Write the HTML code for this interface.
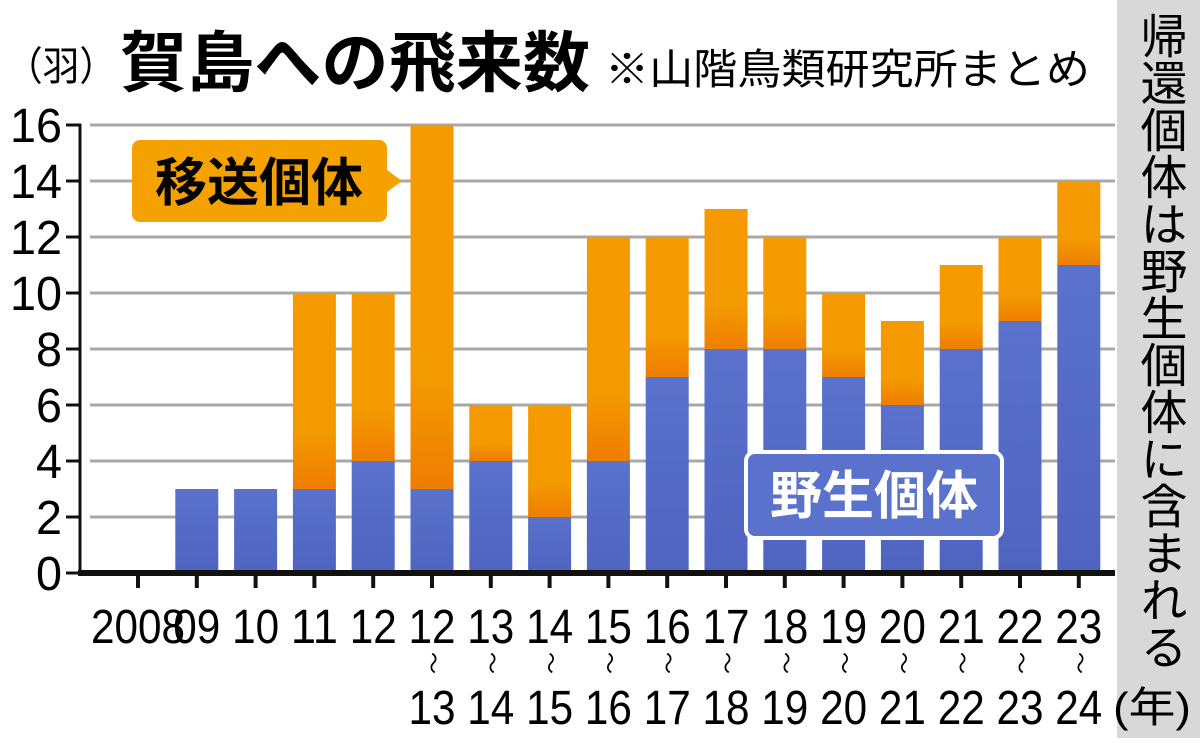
<!DOCTYPE html>
<html><head><meta charset="utf-8">
<style>
body{margin:0;background:#fff;}
svg text{font-family:"Liberation Sans","Noto Sans CJK JP",sans-serif;}
</style></head>
<body>
<svg width="1200" height="738" viewBox="0 0 1200 738" xmlns="http://www.w3.org/2000/svg">
<defs>
<linearGradient id="og" x1="0" y1="0" x2="0" y2="1"><stop offset="0" stop-color="#f59a00"/><stop offset="0.7" stop-color="#f39a00"/><stop offset="1" stop-color="#ee7d00"/></linearGradient>
<linearGradient id="bg" x1="0" y1="0" x2="0" y2="1"><stop offset="0" stop-color="#5a72cc"/><stop offset="1" stop-color="#4f64c0"/></linearGradient>
</defs>
<text x="6" y="80" font-size="40" textLength="110" lengthAdjust="spacingAndGlyphs">（羽）</text>
<text x="120" y="86" font-size="66" font-weight="bold" textLength="470" lengthAdjust="spacingAndGlyphs">賀島への飛来数</text>
<text x="605" y="84" font-size="42" textLength="485" lengthAdjust="spacingAndGlyphs">※山階鳥類研究所まとめ</text>
<rect x="1117" y="0" width="83" height="738" fill="#d8d8d8"/>
<text x="1160" y="12" font-size="47" writing-mode="tb" glyph-orientation-vertical="0" text-anchor="start">帰還個体は野生個体に含まれる</text>
<g id="grid"></g>
<g id="bars"></g>
<g id="axes"></g>
<g>
<rect x="132" y="140" width="255" height="82" rx="8" fill="#f5a200"/>
<polygon points="387,170 402,181 387,192" fill="#f5a200"/>
<text x="259" y="201" font-size="52" font-weight="bold" text-anchor="middle">移送個体</text>
</g>
<g>
<rect x="746" y="452" width="256" height="86" rx="9" fill="#5a72cc" stroke="#fff" stroke-width="4"/>
<text x="874" y="514" font-size="52" font-weight="bold" fill="#fff" text-anchor="middle">野生個体</text>
</g>
<text x="1113" y="722" font-size="42" textLength="78" lengthAdjust="spacingAndGlyphs">(年)</text>
</svg>
<script>
const categories=["2008","09","10","11","12","12|13","13|14","14|15","15|16","16|17","17|18","18|19","19|20","20|21","21|22","22|23","23|24"];
const wild=[0,3,3,3,4,3,4,2,4,7,8,8,7,6,8,9,11];
const transfer=[0,0,0,7,6,13,2,4,8,5,5,4,3,3,3,3,3];
const yTicks=[0,2,4,6,8,10,12,14,16];
const NS="http://www.w3.org/2000/svg";
const y=v=>573-v*28;
const x=i=>138+i*58.8;
const bw=43;
function mk(tag,attrs,parent){const e=document.createElementNS(NS,tag);for(const k in attrs)e.setAttribute(k,attrs[k]);parent.appendChild(e);return e;}
const grid=document.getElementById('grid'),bars=document.getElementById('bars'),axes=document.getElementById('axes');
yTicks.forEach(t=>{
 if(t>0){const g=mk('line',{x1:90,x2:1115,y1:y(t),y2:y(t),stroke:'#a8a8a8','stroke-width':3},grid);
 
 }
 const tk=mk('line',{x1:66,x2:81,y1:y(t),y2:y(t),stroke:'#111','stroke-width':3},axes);
 
 
 const s=String(t);
 const lb=mk('text',{x:62,y:y(t)+17,'font-size':48,'text-anchor':'end',textLength:s.length*26,lengthAdjust:'spacingAndGlyphs'},axes);
 lb.textContent=s;
 
 
});
const ya=mk('line',{x1:80,x2:80,y1:y(16)-1,y2:y(0),stroke:'#111','stroke-width':3},axes);


categories.forEach((c,i)=>{
 const cx=x(i);
 if(wild[i]>0){const b=mk('rect',{x:cx-bw/2,y:y(wild[i]),width:bw,height:y(0)-y(wild[i]),fill:'url(#bg)'},bars);
 
 }
 if(transfer[i]>0){const t=wild[i]+transfer[i];const b=mk('rect',{x:cx-bw/2,y:y(t),width:bw,height:y(wild[i])-y(t),fill:'url(#og)'},bars);
 
 }
 const tk=mk('line',{x1:cx,x2:cx,y1:573,y2:588,stroke:'#111','stroke-width':4},axes);
 
 
 const parts=c.split('|');
 const l=mk('text',{x:cx,y:643,'font-size':48,'text-anchor':'middle',textLength:parts[0].length*23.5,lengthAdjust:'spacingAndGlyphs'},axes);
 l.textContent=parts[0];
 
 
 if(parts[1]){
  const s=mk('text',{x:cx,y:670,'font-size':22,'text-anchor':'middle'},axes);
  s.textContent='〜';
  s.setAttribute('transform','rotate(90 '+cx+' 663)');
  
  
  const l2=mk('text',{x:cx,y:724,'font-size':48,'text-anchor':'middle',textLength:47,lengthAdjust:'spacingAndGlyphs'},axes);
  l2.textContent=parts[1];
  
  
 }
});
const xa=mk('line',{x1:78,x2:1115,y1:573,y2:573,stroke:'#111','stroke-width':6},axes);


</script>
</body></html>
